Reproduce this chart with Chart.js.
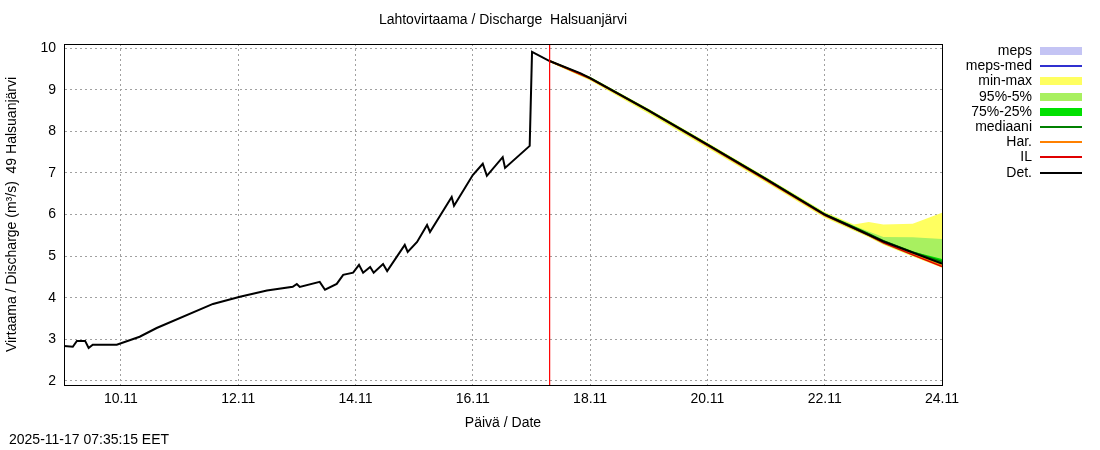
<!DOCTYPE html>
<html>
<head>
<meta charset="utf-8">
<script src="https://cdn.jsdelivr.net/npm/chart.js@4"></script>
<style>
body { margin: 0; background: #fff; font-family: "Liberation Sans", Arial, sans-serif; }
#wrap { position: relative; width: 1100px; height: 450px; }
#title { position: absolute; top: 11px; left: 0; width: 1006px; text-align: center; font-size: 14px; }
#stamp { position: absolute; left: 9px; top: 431px; font-size: 14px; }
#legend { position: absolute; left: 900px; top: 43px; font-size: 14px; }
.row { position: relative; height: 15.2px; width: 184px; }
.row span { position: absolute; right: 52px; top: 0; line-height: 15px; }
.row i { position: absolute; left: 140px; width: 42px; }
</style>
</head>
<body>
<div id="wrap">
<canvas id="c" width="1100" height="450"></canvas>
<div id="title">Lahtovirtaama / Discharge&nbsp; Halsuanjärvi</div>
<div id="legend"></div>
<div id="stamp">2025-11-17 07:35:15 EET</div>
</div>
<script>
// x = days since 10.11 00:00
const tickDays = [0, 2, 4, 6, 8, 10, 12, 14];
const tickLabels = ["10.11", "12.11", "14.11", "16.11", "18.11", "20.11", "22.11", "24.11"];
const nowDay = 7.31;

const detX = [-0.97, -0.82, -0.75, -0.61, -0.55, -0.48, -0.07, 0.32, 0.61, 1.57, 2.03, 2.49, 2.93, 3.0, 3.05, 3.39, 3.48, 3.68, 3.79, 3.96, 4.06, 4.13, 4.25, 4.31, 4.47, 4.54, 4.84, 4.89, 5.05, 5.22, 5.27, 5.64, 5.68, 6.0, 6.17, 6.24, 6.51, 6.55, 6.97, 7.01, 7.31, 7.83, 8, 9, 10, 11, 12, 13, 14];
const detY = [2.84, 2.82, 2.96, 2.96, 2.79, 2.87, 2.87, 3.06, 3.27, 3.85, 4.02, 4.17, 4.26, 4.33, 4.26, 4.38, 4.19, 4.33, 4.55, 4.6, 4.79, 4.6, 4.74, 4.6, 4.81, 4.64, 5.27, 5.1, 5.34, 5.75, 5.58, 6.42, 6.21, 6.95, 7.22, 6.93, 7.38, 7.12, 7.65, 9.91, 9.69, 9.4, 9.28, 8.5, 7.68, 6.85, 6.0, 5.35, 4.82];

const fcX = [7.31, 8, 9, 10, 11, 12, 12.5, 12.75, 13, 13.5, 14];
const ilY = [9.69, 9.27, 8.49, 7.66, 6.83, 5.98, 5.66, 5.50, 5.32, 5.03, 4.75];
const harY = [9.69, 9.27, 8.49, 7.67, 6.84, 5.99, 5.67, 5.51, 5.33, 5.05, 4.78];
const medY = [9.69, 9.29, 8.51, 7.69, 6.86, 6.01, 5.70, 5.54, 5.37, 5.10, 4.87];
const maxY = [9.72, 9.31, 8.54, 7.73, 6.90, 6.06, 5.76, 5.82, 5.76, 5.78, 6.04];
const minY = [9.66, 9.22, 8.42, 7.60, 6.77, 5.92, 5.61, 5.45, 5.27, 4.99, 4.72];
const p95Y = [9.71, 9.30, 8.53, 7.71, 6.89, 6.04, 5.73, 5.59, 5.46, 5.45, 5.41];
const p5Y = [9.67, 9.24, 8.45, 7.63, 6.80, 5.95, 5.63, 5.47, 5.29, 5.01, 4.76];
const p75Y = [9.70, 9.29, 8.51, 7.69, 6.87, 6.02, 5.71, 5.55, 5.38, 5.11, 4.93];
const p25Y = [9.68, 9.26, 8.47, 7.65, 6.82, 5.97, 5.65, 5.49, 5.31, 5.05, 4.80];

const legendItems = [
  ["meps", "#c4c4f4", 8], ["meps-med", "#3030d0", 2], ["min-max", "#ffff60", 8],
  ["95%-5%", "#a8f060", 8], ["75%-25%", "#00e000", 8], ["mediaani", "#008000", 2],
  ["Har.", "#ff8000", 2], ["IL", "#e00000", 2], ["Det.", "#000000", 2]
];

const pts = (xs, ys) => xs.map((x, i) => ({ x: x, y: ys[i] }));
const line = (label, xs, ys, color, w, order) => ({ label, order, data: pts(xs, ys), borderColor: color, borderWidth: w, pointRadius: 0, fill: false, tension: 0 });
const band = (lo, hi, color, order) => [
  { order, data: pts(fcX, lo), borderWidth: 0, pointRadius: 0, fill: false },
  { order, data: pts(fcX, hi), borderWidth: 0, pointRadius: 0, fill: "-1", backgroundColor: color }
];

const lg = document.getElementById("legend");
legendItems.forEach(([t, c, h]) => {
  const r = document.createElement("div");
  r.className = "row";
  r.innerHTML = `<span>${t}</span><i style="top:${8 - h / 2}px;height:${h}px;background:${c}"></i>`;
  lg.appendChild(r);
});

const frame = {
  id: "frame",
  afterDraw(chart) {
    const a = chart.chartArea, ctx = chart.ctx;
    ctx.save();
    ctx.strokeStyle = "#000";
    ctx.lineWidth = 1;
    ctx.strokeRect(a.left + 0.5, a.top + 0.5, a.right - a.left, a.bottom - a.top);
    ctx.restore();
  }
};

new Chart(document.getElementById("c"), {
  type: "line",
  data: {
    datasets: [
      ...band(minY, maxY, "#ffff60", 9),
      ...band(p5Y, p95Y, "#a8f060", 8),
      ...band(p25Y, p75Y, "#00e000", 7),
      line("mediaani", fcX, medY, "#008000", 1.5, 5),
      line("Har.", fcX, harY, "#ff8000", 1.5, 4),
      line("IL", fcX, ilY, "#e00000", 1.5, 3),
      line("Det.", detX, detY, "#000000", 2, 2),
      line("now", [nowDay, nowDay], [1.9, 10.1], "#ff0000", 1.2, 1)
    ]
  },
  options: {
    responsive: false,
    animation: false,
    layout: { padding: { top: 44, right: 158, left: 0, bottom: 18 } },
    plugins: { legend: { display: false }, tooltip: { enabled: false } },
    scales: {
      x: {
        type: "linear", min: -0.97, max: 14,
        afterBuildTicks: s => { s.ticks = tickDays.map(v => ({ value: v })); },
        afterFit: s => { s.height = 47; },
        ticks: { color: "#000", font: { size: 14, family: "Liberation Sans" }, maxRotation: 0, padding: 6,
          callback: v => tickLabels[tickDays.indexOf(v)] },
        grid: { color: "#a0a0a0", tickLength: 0, drawTicks: false },
        border: { dash: [2, 3], color: "#000" },
        title: { display: true, text: "Päivä / Date", color: "#000", font: { size: 14, family: "Liberation Sans" }, padding: { top: 2, bottom: 0 } }
      },
      y: {
        min: 1.9, max: 10.1,
        afterBuildTicks: s => { s.ticks = [2, 3, 4, 5, 6, 7, 8, 9, 10].map(v => ({ value: v })); },
        afterFit: s => { s.width = 64; },
        ticks: { color: "#000", font: { size: 14, family: "Liberation Sans" }, padding: 8 },
        grid: { color: "#a0a0a0", tickLength: 0, drawTicks: false },
        border: { dash: [2, 3], color: "#000" },
        title: { display: true, text: "Virtaama / Discharge (m³/s)  49 Halsuanjärvi", color: "#000", font: { size: 14, family: "Liberation Sans" }, padding: { bottom: 2 } }
      }
    }
  },
  plugins: [frame]
});
</script>
</body>
</html>
